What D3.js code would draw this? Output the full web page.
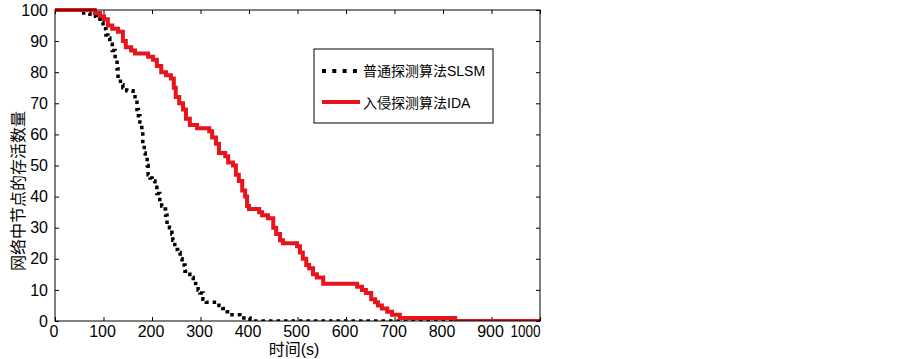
<!DOCTYPE html>
<html lang="zh">
  <head>
    <meta charset="UTF-8" />
    <title>节点存活数量</title>
    <style>
      body {
        margin: 0;
        background: #fff;
      }
      svg {
        display: block;
        font-family: "Liberation Sans", Arial, "Noto Sans CJK SC", sans-serif;
      }
      .axis path,
      .axis line {
        stroke: #000;
      }
      .axis text {
        font-size: 16px;
        fill: #000;
      }
    </style>
  </head>

  <body>
    <div class="container"></div>

    <script src="https://d3js.org/d3.v7.min.js"></script>
    <script>
      // data: 普通探测算法 SLSM (时间, 存活节点数)
      const slsmTime = [0, 45, 52, 72, 85, 93, 99, 105, 109, 113, 118, 124, 128, 130, 135, 140, 148, 161, 165, 169, 172, 175, 179, 181, 184, 186, 190, 192, 196, 200, 206, 210, 216, 220, 223, 228, 231, 236, 241, 243, 247, 253, 258, 262, 268, 273, 278, 285, 290, 295, 299, 305, 312, 338, 346, 355, 361, 381, 402, 1000];
      const slsmValue = [100, 100, 99, 98, 97, 96, 94, 92, 91, 89, 87, 84, 81, 78, 76, 75, 74, 73, 71, 68, 66, 64, 61, 57, 54, 53, 50, 47, 46, 45, 43, 41, 38, 37, 36, 34, 31, 30, 28, 26, 23, 22, 20, 18, 16, 15, 14, 13, 11, 10, 9, 7, 6, 5, 4, 3, 2, 1, 0, 0];

      // data: 入侵探测算法 IDA
      const idaTime = [0, 74, 82, 93, 101, 109, 118, 130, 140, 146, 157, 165, 192, 202, 210, 219, 229, 239, 245, 249, 256, 264, 270, 278, 293, 318, 324, 332, 338, 351, 357, 367, 373, 379, 386, 392, 396, 400, 421, 427, 439, 450, 456, 464, 470, 499, 505, 511, 518, 524, 532, 540, 553, 623, 633, 641, 652, 660, 666, 674, 685, 695, 711, 825, 1000];
      const idaValue = [100, 100, 99, 98, 97, 95, 94, 93, 90, 88, 87, 86, 85, 84, 82, 80, 79, 78, 75, 72, 70, 68, 65, 63, 62, 61, 59, 57, 54, 53, 51, 50, 47, 45, 42, 40, 37, 36, 35, 34, 33, 30, 28, 26, 25, 24, 22, 20, 18, 17, 15, 14, 12, 11, 10, 9, 7, 6, 5, 4, 3, 2, 1, 0, 0];

      const xTicks = [0, 100, 200, 300, 400, 500, 600, 700, 800, 900, 1000];
      const yTicks = [0, 10, 20, 30, 40, 50, 60, 70, 80, 90, 100];
      const seriesNames = ["普通探测算法SLSM", "入侵探测算法IDA"];

      const mLeft = 55, mRight = 540, mTop = 10, mBottom = 321;

      const svg = d3.select(".container").append("svg");
      svg.attr("width", 903).attr("height", 359);
      svg.append("rect").attr("width", 903).attr("height", 359).attr("fill", "#fff");

      const x = d3.scaleLinear().domain([0, 1000]).range([mLeft, mRight]);
      const y = d3.scaleLinear().domain([0, 100]).range([mBottom, mTop]);

      // axes, ticks pointing inward on all four sides
      svg.append("g")
        .attr("class", "axis")
        .attr("transform", `translate(0,${mBottom})`)
        .call(d3.axisBottom(x).tickValues(xTicks).tickFormat(d3.format("d"))
          .tickSizeInner(-4).tickSizeOuter(0).tickPadding(5))
        .call((g) => g.selectAll("text").attr("dx", -1.5)
          .filter((d) => d === 1000)
          .attr("text-anchor", "end").attr("dx", 0)
          .attr("textLength", 30).attr("lengthAdjust", "spacingAndGlyphs"));

      svg.append("g")
        .attr("class", "axis")
        .attr("transform", `translate(0,${mTop})`)
        .call(d3.axisTop(x).tickValues(xTicks).tickSizeInner(-4).tickSizeOuter(0).tickFormat(""));

      svg.append("g")
        .attr("class", "axis")
        .attr("transform", `translate(${mLeft},0)`)
        .call(d3.axisLeft(y).tickValues(yTicks).tickSizeInner(-4).tickSizeOuter(0).tickPadding(7));

      svg.append("g")
        .attr("class", "axis")
        .attr("transform", `translate(${mRight},0)`)
        .call(d3.axisRight(y).tickValues(yTicks).tickSizeInner(-4).tickSizeOuter(0).tickFormat(""));

      svg.selectAll(".axis .domain").remove();

      // clip so the thick lines stay inside the box
      svg.append("clipPath").attr("id", "plot")
        .append("rect")
        .attr("x", mLeft).attr("y", mTop - 2)
        .attr("width", mRight - mLeft).attr("height", mBottom - mTop + 2);

      const line = d3.line()
        .x((d) => x(d[0]))
        .y((d) => y(d[1]))
        .curve(d3.curveStepAfter);

      const plot = svg.append("g").attr("clip-path", "url(#plot)");

      plot.append("path")
        .attr("d", line(d3.zip(slsmTime, slsmValue)))
        .attr("fill", "none")
        .attr("stroke", "#000")
        .attr("stroke-width", 3.5)
        .attr("stroke-dasharray", "3.5,4");

      plot.append("path")
        .attr("d", line(d3.zip(idaTime, idaValue)))
        .attr("fill", "none")
        .attr("stroke", "#e8141c")
        .attr("stroke-width", 4);

      // box
      svg.append("rect")
        .attr("x", mLeft).attr("y", mTop)
        .attr("width", mRight - mLeft).attr("height", mBottom - mTop)
        .attr("fill", "none")
        .attr("stroke", "#000");

      // legend
      const legend = svg.append("g").attr("transform", "translate(314,49)");
      legend.append("rect")
        .attr("width", 179).attr("height", 74)
        .attr("fill", "#fff")
        .attr("stroke", "#000");

      legend.append("line")
        .attr("x1", 8).attr("x2", 44).attr("y1", 22).attr("y2", 22)
        .attr("stroke", "#000").attr("stroke-width", 4)
        .attr("stroke-dasharray", "4,6.3");
      legend.append("line")
        .attr("x1", 8).attr("x2", 46).attr("y1", 53).attr("y2", 53)
        .attr("stroke", "#e8141c").attr("stroke-width", 4);

      legend.selectAll("text")
        .data(seriesNames)
        .join("text")
        .attr("x", 49)
        .attr("y", (d, i) => 27 + i * 32)
        .attr("font-size", 14)
        .text((d) => d);

      // axis titles
      svg.append("text")
        .attr("x", 294).attr("y", 355)
        .attr("text-anchor", "middle")
        .attr("font-size", 16)
        .text("时间(s)");

      svg.append("text")
        .attr("transform", "translate(24,191) rotate(-90)")
        .attr("text-anchor", "middle")
        .attr("font-size", 16)
        .text("网络中节点的存活数量");
    </script>
  </body>
</html>
